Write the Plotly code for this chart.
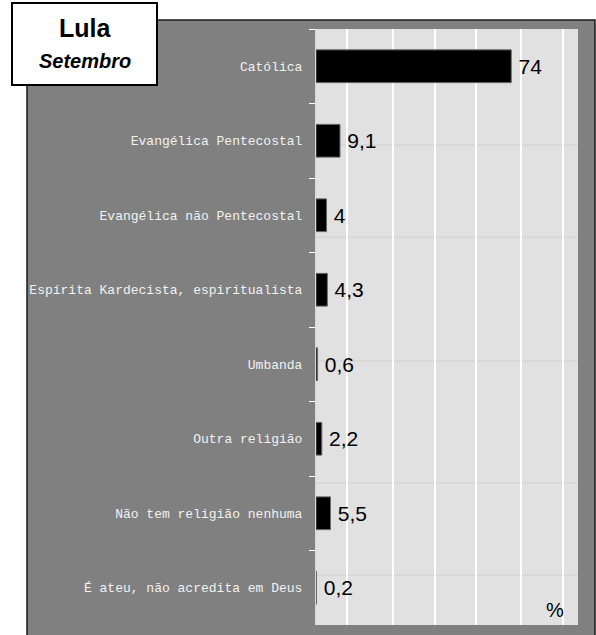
import plotly.graph_objects as go

categories = [
    "Católica",
    "Evangélica Pentecostal",
    "Evangélica não Pentecostal",
    "Espírita Kardecista, espiritualista",
    "Umbanda",
    "Outra religião",
    "Não tem religião nenhuma",
    "É ateu, não acredita em Deus",
]
values = [74, 9.1, 4, 4.3, 0.6, 2.2, 5.5, 0.2]
value_labels = [f"{v:g}".replace(".", ",") for v in values]
grid_x = [11.7, 29.2, 45.1, 60.6, 77.7, 93.6]

W, H = 596, 635
L, R, T, B = 316, 578, 29, 625
pw, ph = R - L, B - T


def px(x):
    return (x - L) / pw


def py(y):
    return (B - y) / ph


fig = go.Figure()
fig.add_trace(go.Bar(
    y=categories, x=values, orientation="h",
    marker=dict(color="black", line=dict(color="#6a6a6a", width=1)),
    width=0.44,
    text=value_labels, texttemplate="\u2009%{text}",
    textposition="outside", cliponaxis=False,
    textfont=dict(family="Liberation Sans, Arial, sans-serif", size=21, color="black"),
    hoverinfo="skip",
))

shapes = [
    # outer grey panel
    dict(type="rect", xref="paper", yref="paper", layer="below",
         x0=px(27), x1=px(595), y0=py(645), y1=py(20),
         fillcolor="#808080", line=dict(color="#1a1a1a", width=1.5)),
    # plot area
    dict(type="rect", xref="paper", yref="paper", layer="below",
         x0=0, x1=1, y0=0, y1=1,
         fillcolor="#e1e1e1", line=dict(width=0)),
    # title box
    dict(type="rect", xref="paper", yref="paper", layer="above",
         x0=px(12), x1=px(157), y0=py(85), y1=py(3),
         fillcolor="white", line=dict(color="black", width=2)),
]
for yy in [145, 237, 361, 483, 575]:
    shapes.append(dict(type="line", xref="paper", yref="paper", layer="below",
                       x0=0, x1=1, y0=py(yy), y1=py(yy),
                       line=dict(color="#d0d0d0", width=1)))

annotations = [
    dict(xref="paper", yref="paper", x=px(84.5), y=py(28), text="<b>Lula</b>",
         showarrow=False, xanchor="center", yanchor="middle",
         font=dict(family="Liberation Sans, Arial, sans-serif", size=25, color="black")),
    dict(xref="paper", yref="paper", x=px(85), y=py(61), text="<b><i>Setembro</i></b>",
         showarrow=False, xanchor="center", yanchor="middle",
         font=dict(family="Liberation Sans, Arial, sans-serif", size=20, color="black")),
    dict(xref="paper", yref="paper", x=px(555), y=py(610), text="%",
         showarrow=False, xanchor="center", yanchor="middle",
         font=dict(family="Liberation Sans, Arial, sans-serif", size=20, color="black")),
]

fig.update_layout(
    width=W, height=H,
    margin=dict(l=L, r=W - R, t=T, b=H - B, pad=0),
    paper_bgcolor="white",
    plot_bgcolor="rgba(0,0,0,0)",
    showlegend=False,
    shapes=shapes,
    annotations=annotations,
)
fig.update_xaxes(
    range=[0, 99.3], tickvals=grid_x, showticklabels=False,
    showgrid=True, gridcolor="white", gridwidth=1.5,
    zeroline=False, showline=False, ticks="",
)
fig.update_yaxes(
    autorange="reversed", type="category",
    ticks="outside", tickson="boundaries", ticklen=6, tickcolor="white", tickwidth=1,
    showline=True, linecolor="#d8d8d8", linewidth=1,
    showgrid=False, zeroline=False,
    ticklabelstandoff=10,
    tickfont=dict(family="Liberation Mono, Courier New, monospace", size=13, color="#f2f2f2"),
)

fig.write_html(
    "out.html",
    config={"displayModeBar": False, "staticPlot": True},
    post_script="document.body.style.margin='0';document.body.style.overflow='hidden';",
)
